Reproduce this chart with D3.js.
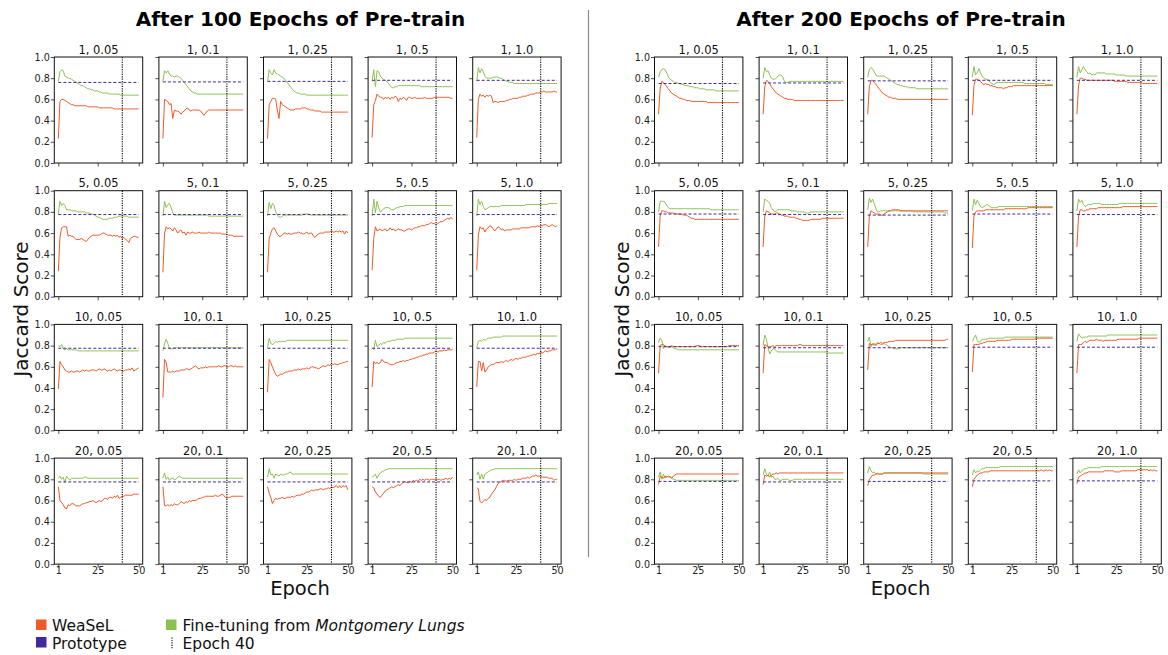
<!DOCTYPE html>
<html>
<head>
<meta charset="utf-8">
<script src="https://cdn.jsdelivr.net/npm/d3@7"></script>
<style>
  body { margin: 0; background: #fff; }
  text { font-family: "DejaVu Sans", sans-serif; }
</style>
</head>
<body>
<script>
// ---- Data (Jaccard score x 100, one value per epoch 1..50) ----
const epochs = d3.range(1, 51);
const shots = ["1", "5", "10", "20"];                 // subplot rows
const fractions = ["0.05", "0.1", "0.25", "0.5", "1.0"]; // subplot columns
const panelTitles = ["After 100 Epochs of Pre-train", "After 200 Epochs of Pre-train"];
const yTicks = [0, 0.2, 0.4, 0.6, 0.8, 1.0];
const xTicks = [1, 25, 50];
const markerEpoch = 40;

// After 100 epochs of pre-training, row-major (shots x fraction)
const weasel100 = [
  [23,58,60,60,59,58,57,56,55,55, 54,54,54,54,54,54,54,54,53,53, 53,53,53,53,53,52,52,52,52,52, 52,52,52,52,51,51,51,51,51,51, 51,51,51,51,51,51,51,51,51,51],
  [23,60,59,58,55,56,42,50,49,49, 48,46,48,49,51,52,50,49,50,50, 50,50,50,49,47,45,47,49,50,50, 50,50,50,50,50,50,50,50,50,50, 50,50,50,50,50,50,50,50,50,50],
  [23,55,58,61,61,60,50,42,58,55, 54,53,52,51,50,50,50,51,51,51, 51,52,52,52,51,51,50,50,50,49, 49,49,49,48,48,48,48,48,48,48, 48,48,48,48,48,48,48,48,48,48],
  [24,55,59,65,63,62,62,60,62,61, 62,60,62,61,63,62,58,61,60,62, 61,59,62,62,61,61,62,61,61,61, 61,61,62,61,61,61,61,61,62,62, 62,62,62,62,62,62,62,62,61,61],
  [24,60,65,63,64,62,64,63,64,63, 57,58,58,57,58,58,58,58,59,59, 60,60,61,61,61,61,62,62,63,63, 63,64,64,65,65,65,66,66,66,67, 67,68,67,67,67,67,67,68,67,67],
  [24,56,65,66,66,66,57,58,57,57, 55,54,54,54,55,54,53,52,54,56, 57,58,58,58,58,58,59,60,60,59, 58,58,58,57,58,57,58,56,57,55, 56,54,53,51,55,56,57,57,56,56],
  [23,60,66,64,65,64,62,65,63,60, 62,63,60,61,58,61,60,60,61,60, 60,60,61,60,60,60,60,60,61,60, 60,60,60,60,60,60,59,59,59,59, 58,58,58,57,57,57,57,57,57,57],
  [23,55,60,64,65,62,59,57,57,58, 60,60,59,60,59,59,60,60,60,61, 60,60,59,60,61,59,60,60,57,56, 58,59,60,60,60,61,61,61,61,62, 61,61,62,61,62,61,62,59,62,60],
  [25,55,66,62,63,64,62,63,64,62, 63,65,63,64,62,63,64,63,63,62, 62,63,64,64,63,64,65,65,66,66, 67,67,67,68,68,69,70,69,69,68, 69,70,71,71,72,73,74,73,75,73],
  [25,58,66,64,65,61,64,65,67,66, 64,62,64,66,65,63,64,62,63,63, 63,63,64,64,64,64,64,65,65,65, 65,65,65,66,66,66,66,67,66,67, 67,68,68,67,66,67,68,67,66,67],
  [39,65,62,60,57,56,55,55,56,55, 55,56,56,55,56,57,56,57,56,56, 57,57,57,56,57,58,57,57,58,57, 56,57,56,57,58,57,56,57,57,56, 56,57,57,58,57,59,56,57,58,59],
  [31,67,64,55,55,55,56,55,56,56, 56,57,57,57,58,58,57,58,59,60, 61,59,58,59,59,59,60,59,60,60, 60,60,60,60,61,60,60,61,61,60, 60,61,61,60,61,60,60,60,60,60],
  [36,67,64,60,56,53,51,52,53,53, 54,55,55,56,56,56,57,57,57,58, 57,58,58,58,59,58,59,60,60,59, 59,58,59,60,61,60,61,62,61,63, 62,63,62,62,63,63,64,64,65,65],
  [41,65,63,64,63,64,67,65,64,64, 63,62,62,62,63,64,64,65,65,66, 65,66,66,67,67,68,68,69,69,70, 70,71,71,72,72,73,73,73,74,75, 74,75,75,75,76,75,76,76,76,76],
  [41,65,65,56,64,55,57,60,61,62, 62,63,64,64,64,65,64,65,66,65, 66,67,66,67,68,67,68,68,69,69, 69,70,70,71,71,72,71,73,72,74, 73,74,75,74,75,75,76,76,76,77],
  [73,60,58,56,53,52,56,55,57,57, 56,55,55,55,56,57,57,58,58,59, 59,60,59,58,59,60,59,60,62,62, 61,63,63,62,64,63,65,62,63,64, 64,65,65,65,65,65,66,66,66,66],
  [73,55,55,56,55,56,55,57,56,56, 57,59,58,57,59,58,60,59,60,60, 60,61,62,62,63,63,64,64,64,64, 64,64,65,64,64,65,66,65,63,62, 63,63,64,64,64,64,64,64,64,64],
  [73,67,63,57,60,62,61,62,62,63, 62,62,63,63,63,64,63,64,65,65, 65,66,66,67,68,68,69,70,69,70, 70,70,71,71,70,71,71,72,71,73, 72,73,74,72,74,72,74,73,74,70],
  [73,72,68,66,64,63,65,67,69,70, 71,72,73,72,73,74,75,74,76,77, 78,77,77,78,77,79,78,79,78,80, 79,80,79,80,80,79,80,80,80,80, 80,80,79,80,80,81,80,81,80,82],
  [72,71,59,58,59,61,60,62,63,66, 68,70,73,76,77,78,79,79,78,79, 79,79,79,80,79,80,80,80,81,81, 81,82,81,82,83,83,84,83,83,83, 82,82,82,82,81,81,81,79,80,80]
];

const fineTune100 = [
  [77,86,88,87,82,81,80,80,79,78, 77,76,75,74,73,73,72,71,70,70, 69,69,68,68,68,67,67,66,66,66, 66,65,65,65,65,65,65,65,64,64, 64,64,64,64,64,64,64,64,64,64],
  [77,87,85,87,84,82,82,81,82,82, 81,80,78,76,74,72,70,68,67,66, 66,65,65,65,65,65,65,65,65,65, 65,65,65,65,65,65,65,65,65,65, 65,65,65,65,65,65,65,65,65,65],
  [77,88,85,83,88,85,84,83,82,81, 80,78,76,74,72,70,68,67,66,66, 65,65,65,65,64,64,64,64,64,64, 64,64,64,64,64,64,64,64,64,64, 64,64,64,64,64,64,64,64,64,64],
  [77,88,72,87,86,82,80,79,78,77, 75,73,71,71,72,72,73,73,73,73, 73,73,73,73,73,73,73,73,73,73, 72,72,72,72,72,72,72,72,72,72, 72,72,72,72,72,72,72,72,72,72],
  [77,90,85,89,86,82,80,80,80,80, 81,81,81,81,80,80,79,78,77,77, 76,76,76,75,75,75,75,75,75,75, 75,75,75,75,75,75,75,75,75,75, 75,75,75,75,75,75,75,75,75,75],
  [78,90,86,88,86,82,82,82,81,81, 81,81,80,80,80,80,80,79,79,79, 78,78,77,76,75,75,74,73,73,73, 73,74,74,74,75,75,75,76,76,76, 76,76,76,75,75,75,75,75,75,75],
  [76,90,84,87,88,84,79,77,77,77, 77,77,77,77,77,77,77,77,77,77, 77,77,77,77,77,77,77,77,76,76, 76,76,76,76,76,76,76,76,76,76, 76,76,76,76,76,76,76,76,76,76],
  [76,89,83,88,86,80,77,75,75,76, 77,77,77,77,77,77,77,77,77,77, 77,77,78,78,78,78,77,77,77,77, 77,77,77,77,77,77,77,77,77,77, 77,77,77,77,77,77,77,77,77,77],
  [76,92,79,90,84,80,81,83,84,84, 84,83,82,82,83,84,84,85,85,85, 86,86,86,86,86,86,86,86,86,86, 86,86,86,86,86,86,86,86,86,86, 86,86,86,86,86,86,86,86,86,86],
  [76,92,87,90,85,82,83,84,85,85, 85,85,85,85,85,86,86,86,86,86, 86,86,86,86,86,86,86,86,86,86, 87,87,87,87,87,87,87,87,87,87, 87,87,87,87,88,88,88,88,88,88],
  [80,79,81,77,76,77,76,76,76,76, 76,76,75,75,75,75,75,75,75,75, 75,75,75,75,75,75,75,75,75,75, 75,75,75,75,75,75,75,75,75,75, 75,75,75,75,75,75,75,75,75,75],
  [75,82,86,82,77,77,77,78,78,78, 78,78,78,78,78,78,78,78,78,78, 78,78,78,78,78,78,78,78,78,78, 78,78,78,78,78,78,78,78,78,78, 78,78,78,78,78,78,78,78,78,78],
  [78,87,82,81,82,84,83,84,84,84, 84,84,85,85,85,85,85,85,85,85, 85,85,85,85,85,85,85,85,85,85, 85,85,85,85,85,85,85,85,85,85, 85,85,85,85,85,85,85,85,85,85],
  [78,76,85,79,80,82,81,83,82,84, 84,84,85,85,85,86,86,86,86,86, 87,87,87,87,87,87,87,87,87,87, 87,87,87,87,87,87,87,87,87,87, 87,87,87,87,87,87,87,87,87,87],
  [78,84,85,84,86,85,86,87,87,87, 88,88,88,88,88,88,89,89,89,89, 89,89,89,89,89,89,89,89,89,89, 89,89,89,89,89,89,89,89,89,89, 89,89,89,89,89,89,89,89,89,89],
  [81,83,80,82,77,83,81,79,81,81, 81,81,81,81,81,81,82,82,81,81, 81,81,81,81,81,81,81,81,81,81, 81,81,81,81,81,81,81,81,81,81, 81,81,81,81,81,81,81,81,81,81],
  [81,86,80,82,79,81,81,80,80,82, 83,82,81,81,81,81,81,81,81,81, 81,81,81,81,81,81,81,81,81,81, 81,81,81,81,81,81,81,81,81,81, 81,81,81,81,81,81,81,81,81,81],
  [82,90,84,85,81,85,84,83,85,84, 84,85,85,86,87,85,85,85,85,85, 85,85,85,85,85,85,85,85,85,85, 85,85,85,85,85,85,85,85,85,85, 85,85,85,85,85,85,85,85,85,85],
  [82,83,85,81,84,86,87,88,89,89, 90,90,90,90,90,90,90,90,90,90, 90,90,90,90,90,90,90,90,90,90, 90,90,90,90,90,90,90,90,90,90, 90,90,90,90,90,90,90,90,90,90],
  [84,87,80,85,80,85,86,87,88,89, 89,90,90,90,90,90,90,90,90,90, 90,90,90,90,90,90,90,90,90,90, 90,90,90,90,90,90,90,90,90,90, 90,90,90,90,90,90,90,90,90,90]
];

const proto100 = [76, 76.5, 77, 78, 78,  77.5, 77.5, 77.5, 77.5, 77.5,  77.5, 77.5, 77.5, 77.5, 77.5,  77.5, 77.5, 77.5, 77.5, 77.5];

// After 200 epochs of pre-training
const weasel200 = [
  [46,70,77,76,74,72,70,68,66,65, 64,63,62,61,61,60,60,59,59,59, 58,58,58,58,58,58,58,58,58,58, 57,57,57,57,57,57,57,57,57,57, 57,57,57,57,57,57,57,57,57,57],
  [46,72,78,77,75,72,70,68,66,65, 64,63,62,61,61,60,60,60,60,59, 59,59,59,59,59,59,59,59,59,59, 59,59,59,59,59,59,59,59,59,59, 59,59,59,59,59,59,59,59,59,59],
  [46,72,78,78,76,74,72,70,68,66, 65,64,63,62,62,61,61,61,60,60, 60,60,60,60,60,60,60,60,60,60, 60,60,60,60,60,60,60,60,60,60, 60,60,60,60,60,60,60,60,60,60],
  [45,73,79,79,78,77,75,74,75,74, 74,73,73,72,72,71,71,71,71,70, 71,71,72,72,72,73,73,73,73,73, 73,73,73,73,73,73,73,73,73,73, 73,73,73,73,73,73,73,73,73,73],
  [46,73,80,80,79,79,78,78,78,78, 78,78,78,78,78,78,78,78,78,78, 78,78,78,77,77,77,77,77,77,77, 77,76,76,76,76,76,76,76,76,76, 75,75,75,75,75,75,75,75,75,75],
  [47,76,81,81,80,80,79,79,79,79, 78,78,78,78,78,77,77,77,76,75, 74,74,73,73,73,73,73,73,73,73, 73,73,73,73,73,73,73,73,73,73, 73,73,73,73,73,73,73,73,73,73],
  [47,76,81,80,79,78,78,78,79,79, 78,77,77,76,76,76,75,75,75,75, 74,74,73,73,72,72,72,72,72,73, 73,73,73,73,73,73,74,74,74,74, 74,74,74,74,74,74,74,74,74,74],
  [47,76,81,80,79,78,78,78,77,77, 78,79,80,81,81,82,82,82,82,82, 81,81,81,81,81,81,81,81,81,81, 81,81,81,81,81,81,81,81,81,81, 81,81,81,81,81,81,81,81,81,81],
  [46,76,80,81,81,81,81,81,82,82, 82,82,82,82,82,82,82,82,82,82, 83,83,83,83,83,83,83,83,83,83, 83,83,83,83,84,84,84,84,84,84, 84,84,84,84,84,84,84,84,84,84],
  [47,76,82,82,81,81,82,82,83,83, 83,83,83,84,84,84,84,84,84,84, 84,84,84,84,84,84,84,84,85,85, 85,85,85,85,85,85,85,85,85,85, 85,85,85,85,85,85,85,85,85,85],
  [54,80,81,81,79,79,79,79,80,79, 79,79,79,79,79,79,79,79,79,79, 79,79,79,80,80,80,79,79,79,79, 79,79,79,79,79,79,79,79,79,79, 79,79,79,80,80,80,80,80,80,80],
  [54,81,80,79,79,79,80,79,80,80, 80,80,80,80,80,80,80,80,80,80, 80,80,81,81,80,80,80,80,80,80, 80,80,80,80,80,80,80,80,80,80, 80,80,80,80,80,80,80,80,80,80],
  [57,82,81,81,82,80,82,82,83,82, 83,83,83,84,84,84,84,85,85,85, 85,85,85,85,85,85,85,85,85,85, 85,85,85,85,85,85,85,85,85,85, 85,85,85,85,85,85,85,85,86,86],
  [55,81,81,81,81,82,82,83,83,84, 84,84,84,84,84,85,85,85,85,85, 85,85,85,85,86,86,86,86,86,86, 86,86,86,86,86,86,86,86,86,87, 87,87,87,87,87,87,87,87,87,87],
  [54,81,81,81,83,84,83,84,85,85, 85,85,86,85,85,85,84,85,85,85, 85,85,85,85,85,86,86,86,86,86, 86,86,86,86,86,86,86,86,87,87, 87,87,87,87,87,87,87,87,87,87],
  [75,83,82,81,83,82,83,82,81,83, 84,85,85,85,85,85,85,85,85,85, 85,85,85,85,85,85,85,85,85,85, 85,85,85,85,85,85,85,85,85,85, 85,85,85,85,85,85,85,85,85,85],
  [75,84,83,84,82,84,85,85,86,85, 86,86,86,86,86,86,86,86,86,86, 86,86,86,86,86,86,86,86,86,86, 86,86,86,86,86,86,86,86,86,86, 86,86,86,86,86,86,86,86,86,86],
  [74,80,82,84,84,85,85,85,85,85, 86,86,86,86,86,86,86,86,86,86, 86,86,86,86,86,86,86,86,86,86, 86,86,86,86,86,86,86,86,86,86, 86,86,86,86,86,86,86,86,86,86],
  [73,80,82,84,85,86,86,87,87,87, 87,88,88,88,88,88,88,88,88,88, 88,88,88,88,88,88,88,88,88,88, 88,88,88,88,88,88,88,88,88,88, 88,88,89,88,88,89,88,89,88,88],
  [76,82,83,84,85,86,86,87,87,87, 87,87,87,87,87,87,87,88,88,88, 88,88,88,87,87,87,87,88,88,88, 88,88,88,88,88,88,88,89,89,89, 89,89,89,89,88,89,88,89,88,88]
];

const fineTune200 = [
  [81,86,88,89,88,85,81,79,78,77, 76,76,75,75,74,74,73,73,73,72, 72,72,71,71,71,70,70,70,70,69, 69,69,69,69,69,68,68,68,68,68, 68,68,68,68,68,68,68,68,68,68],
  [80,90,86,87,83,80,79,79,80,82, 83,83,81,77,76,76,77,77,77,77, 77,77,77,77,77,77,77,77,77,77, 77,77,77,77,77,77,77,77,77,77, 77,77,77,77,77,77,77,77,77,77],
  [81,88,90,89,86,83,82,82,82,82, 82,81,80,79,78,77,76,75,74,74, 73,73,72,72,72,71,71,71,71,71, 70,70,70,70,70,70,70,70,70,70, 70,70,70,70,70,70,70,70,70,70],
  [81,91,83,85,89,85,82,80,79,79, 78,76,75,74,75,76,76,76,76,76, 76,76,76,76,76,76,76,76,76,76, 76,76,75,75,75,75,75,75,75,75, 75,75,75,75,75,74,74,74,74,74],
  [81,91,85,88,91,88,86,84,85,83, 84,83,85,85,85,85,85,85,84,84, 84,84,84,84,83,83,83,83,83,83, 82,82,82,82,82,82,82,82,82,82, 82,82,82,82,82,82,82,82,82,82],
  [80,90,90,90,89,86,84,83,83,83, 83,83,83,83,83,83,83,83,83,83, 83,83,83,83,83,83,83,83,83,83, 83,83,82,82,82,82,82,82,82,82, 82,82,82,82,82,82,82,82,82,82],
  [80,92,91,90,88,84,82,80,81,82, 82,82,82,82,82,82,82,81,81,81, 81,80,80,80,80,80,79,79,79,80, 80,80,80,80,80,80,80,80,80,80, 80,80,80,80,80,80,80,80,80,80],
  [82,93,89,92,88,83,80,80,81,81, 81,81,81,81,81,81,81,81,81,81, 81,81,81,81,81,81,81,81,80,80, 80,80,80,80,80,80,80,80,80,80, 80,80,80,80,80,80,80,79,79,79],
  [81,92,87,91,88,85,84,85,86,87, 86,85,84,84,84,84,85,85,85,85, 85,85,85,85,85,85,85,85,85,85, 85,85,85,85,85,85,85,85,85,85, 85,85,85,85,85,85,85,85,85,85],
  [81,92,89,91,87,85,86,87,87,87, 88,88,88,88,88,87,87,87,87,87, 87,87,87,87,87,87,88,88,88,88, 88,88,88,88,88,88,88,88,88,88, 88,88,88,88,88,88,88,88,88,88],
  [83,87,85,77,80,79,78,78,79,78, 77,77,76,76,76,76,76,76,76,76, 76,76,76,76,76,76,76,76,76,76, 76,76,76,76,76,76,76,76,76,76, 76,76,76,76,76,76,76,76,76,76],
  [80,90,86,78,72,75,77,77,75,74, 74,74,74,74,74,74,74,74,74,74, 74,74,74,74,74,74,74,74,74,74, 74,74,74,74,74,74,74,74,74,73, 73,73,73,73,73,73,73,73,73,73],
  [84,88,79,82,80,82,83,82,81,81, 82,81,80,79,78,78,77,77,77,77, 78,78,78,78,78,78,78,78,78,78, 78,78,78,78,78,78,78,78,78,78, 78,78,78,78,78,78,78,78,78,78],
  [84,87,90,85,83,84,86,86,86,86, 87,87,87,87,87,87,87,87,87,87, 88,88,88,88,88,88,88,88,88,88, 88,88,88,88,88,88,88,88,88,88, 88,88,88,88,88,88,88,88,88,88],
  [84,91,89,87,88,88,88,89,89,89, 89,89,89,89,89,89,89,89,89,90, 90,90,90,90,90,90,90,90,90,90, 90,90,90,90,90,90,90,90,90,90, 90,90,90,90,90,90,90,90,90,90],
  [82,87,80,85,81,83,82,83,81,80, 80,79,79,79,79,79,79,79,79,79, 79,79,79,79,79,79,79,79,79,79, 79,79,79,79,79,79,79,79,79,79, 79,79,79,79,79,79,79,79,79,79],
  [84,90,85,83,87,82,83,80,80,81, 79,79,80,80,80,80,79,79,79,80, 80,80,80,80,79,80,80,80,80,80, 80,80,80,80,80,80,80,80,80,80, 80,80,80,80,80,80,80,80,80,80],
  [86,92,88,86,87,85,86,85,85,85, 86,86,86,86,86,86,86,86,86,86, 86,86,86,86,86,86,86,86,86,86, 86,86,86,86,85,85,85,85,85,85, 85,85,85,85,85,85,85,85,85,85],
  [84,89,86,88,87,89,90,90,91,91, 91,91,91,91,91,91,91,92,92,92, 92,92,92,92,92,92,92,92,92,92, 92,92,92,92,92,92,92,92,92,92, 92,92,92,92,92,92,92,92,92,92],
  [85,89,86,88,89,90,90,91,91,91, 91,91,91,91,91,92,92,92,92,92, 92,92,92,92,92,92,92,92,92,92, 92,92,92,92,92,92,92,92,92,92, 92,92,92,92,92,92,92,92,92,92]
];

const proto200 = [75, 75.5, 77.5, 78, 78,  78, 77.5, 77, 78, 77.5,  79, 78, 78, 78.5, 78.5,  78, 77.5, 78, 78.5, 78.5];

// ---- Styling ----
const COLORS = { weasel: "#F05A28", fine: "#8CC152", proto: "#43289C" };
const W = 1168, H = 655;
const axW = 88.4, axH = 106, colStep = 104.6, rowStep = 133.7, rowTop = 57;

const panels = [
  { title: panelTitles[0], weasel: weasel100, fine: fineTune100, proto: proto100, left: 54.3, cx: 300.5, ylabX: 28, xlabX: 300 },
  { title: panelTitles[1], weasel: weasel200, fine: fineTune200, proto: proto200, left: 654.5, cx: 901, ylabX: 628.5, xlabX: 900.5 }
];

const svg = d3.select("body").append("svg").attr("width", W).attr("height", H);

const x = d3.scaleLinear().domain([-1.45, 52.45]).range([0, axW]);
const y = d3.scaleLinear().domain([0, 1]).range([axH, 0]);
const line = d3.line().x((d, i) => x(epochs[i])).y(d => y(d / 100));

// divider between the two pre-training panels
svg.append("line").attr("x1", 588.5).attr("x2", 588.5).attr("y1", 10).attr("y2", 557)
  .attr("stroke", "#8a8a8a").attr("stroke-width", 1.2);

panels.forEach(p => {
  svg.append("text").attr("x", p.cx).attr("y", 26).attr("text-anchor", "middle")
    .attr("font-size", 20).attr("font-weight", "bold").attr("fill", "#000").text(p.title);

  svg.append("text")
    .attr("transform", `translate(${p.ylabX},309) rotate(-90)`)
    .attr("text-anchor", "middle").attr("font-size", 20).attr("fill", "#111").text("Jaccard Score");

  svg.append("text").attr("x", p.xlabX).attr("y", 595).attr("text-anchor", "middle")
    .attr("font-size", 19.5).attr("fill", "#111").text("Epoch");

  shots.forEach((s, r) => {
    fractions.forEach((f, c) => {
      const k = r * fractions.length + c;
      const g = svg.append("g").attr("transform", `translate(${p.left + c * colStep},${rowTop + r * rowStep})`);

      g.append("text").attr("x", axW / 2).attr("y", -3.5).attr("text-anchor", "middle")
        .attr("font-size", 11.5).attr("fill", "#111").text(`${s}, ${f}`);

      const ya = g.append("g").call(d3.axisLeft(y).tickValues(yTicks).tickSize(3.5).tickPadding(1)
        .tickFormat(c === 0 ? d3.format(".1f") : () => ""));
      const xa = g.append("g").attr("transform", `translate(0,${axH})`)
        .call(d3.axisBottom(x).tickValues(xTicks).tickSize(3.5).tickPadding(0)
        .tickFormat(r === shots.length - 1 ? d => String(d) : () => ""));
      [ya, xa].forEach(a => {
        a.select(".domain").remove();
        a.selectAll(".tick line").attr("stroke", "#222").attr("stroke-width", 0.8);
        a.selectAll(".tick text").attr("font-size", 9.6).attr("fill", "#222")
          .attr("font-family", "DejaVu Sans, sans-serif");
      });

      g.append("path").datum(p.fine[k]).attr("d", line).attr("fill", "none")
        .attr("stroke", COLORS.fine).attr("stroke-width", 1);
      g.append("path").datum(p.weasel[k]).attr("d", line).attr("fill", "none")
        .attr("stroke", COLORS.weasel).attr("stroke-width", 1);
      g.append("line").attr("x1", x(epochs[0])).attr("x2", x(epochs[epochs.length - 1]))
        .attr("y1", y(p.proto[k] / 100)).attr("y2", y(p.proto[k] / 100))
        .attr("stroke", COLORS.proto).attr("stroke-width", 1).attr("stroke-dasharray", "3,2");
      g.append("line").attr("x1", x(markerEpoch)).attr("x2", x(markerEpoch)).attr("y1", 0).attr("y2", axH)
        .attr("stroke", "#000").attr("stroke-width", 1.1).attr("stroke-dasharray", "1.2,1.2");

      g.append("rect").attr("width", axW).attr("height", axH).attr("fill", "none")
        .attr("stroke", "#111").attr("stroke-width", 1);
    });
  });
});

// legend
const legend = svg.append("g").attr("font-size", 15.5).attr("fill", "#111");
legend.append("rect").attr("x", 36).attr("y", 619.5).attr("width", 10.5).attr("height", 10.5).attr("fill", COLORS.weasel);
legend.append("text").attr("x", 52).attr("y", 631).text("WeaSeL");
legend.append("rect").attr("x", 36).attr("y", 637).attr("width", 10.5).attr("height", 10.5).attr("fill", COLORS.proto);
legend.append("text").attr("x", 52).attr("y", 648.5).text("Prototype");
legend.append("rect").attr("x", 166).attr("y", 619.5).attr("width", 10.5).attr("height", 10.5).attr("fill", COLORS.fine);
const ft = legend.append("text").attr("x", 182.5).attr("y", 631);
ft.append("tspan").text("Fine-tuning from ");
ft.append("tspan").attr("font-style", "italic").text("Montgomery Lungs");
legend.append("line").attr("x1", 172).attr("x2", 172).attr("y1", 637.5).attr("y2", 648.5)
  .attr("stroke", "#000").attr("stroke-width", 1.1).attr("stroke-dasharray", "1.2,1.2");
legend.append("text").attr("x", 182.5).attr("y", 648.5).text("Epoch 40");
</script>
</body>
</html>
